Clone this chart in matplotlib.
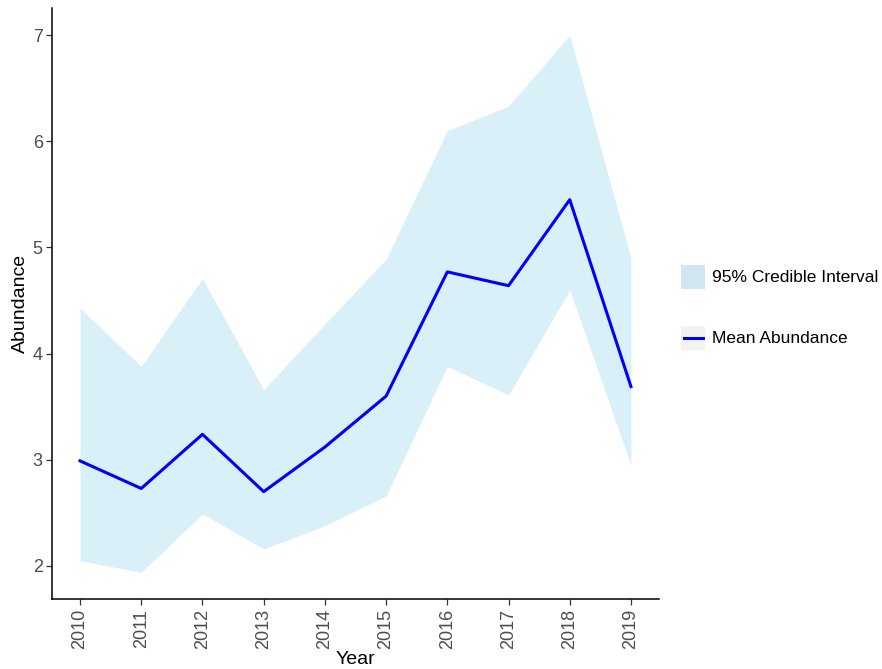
import matplotlib
matplotlib.use("Agg")
import matplotlib.pyplot as plt
from matplotlib.patches import Rectangle
from matplotlib.lines import Line2D

plt.rcParams['font.family'] = ['Liberation Sans', 'DejaVu Sans']

years = [2010, 2011, 2012, 2013, 2014, 2015, 2016, 2017, 2018, 2019]
mean_abundance = [2.99, 2.73, 3.24, 2.70, 3.12, 3.60, 4.77, 4.64, 5.45, 3.69]
lower_ci = [2.05, 1.94, 2.49, 2.16, 2.38, 2.66, 3.88, 3.61, 4.60, 2.95]
upper_ci = [4.43, 3.88, 4.71, 3.66, 4.28, 4.89, 6.10, 6.33, 7.00, 4.90]

band_color = '#87CEEB'
band_alpha = 0.3
line_color = '#0000FF'

fig = plt.figure(figsize=(8.82, 6.69), dpi=100)
ax = fig.add_axes([0.0595, 0.1043, 0.6871, 0.8834])

ax.fill_between(years, lower_ci, upper_ci, color=band_color, alpha=band_alpha,
                linewidth=0)
ax.plot(years, mean_abundance, color=line_color, linewidth=2.2)

ax.set_xlim(2009.55, 2019.45)
ax.set_ylim(1.687, 7.253)
ax.set_xticks(years)
ax.set_xticklabels([str(y) for y in years], rotation=90)
ax.set_yticks([2, 3, 4, 5, 6, 7])

for side in ('top', 'right'):
    ax.spines[side].set_visible(False)
for side in ('left', 'bottom'):
    ax.spines[side].set_linewidth(1.1)
    ax.spines[side].set_color('black')

ax.tick_params(axis='both', length=4, width=0.9, color='#333333',
               labelcolor='#4D4D4D', labelsize=13, pad=3)

ax.set_xlabel('Year', fontsize=14, color='black', labelpad=1)
ax.set_ylabel('Abundance', fontsize=14, color='black', labelpad=3)

# legend drawn in its own axes (pixel-like coordinates)
lax = fig.add_axes([0, 0, 1, 1], facecolor='none')
lax.set_xlim(0, 882)
lax.set_ylim(669, 0)
lax.axis('off')

key_bg = '#F2F2F2'
lax.add_patch(Rectangle((681, 265), 24, 24, facecolor=key_bg, edgecolor='none'))
lax.add_patch(Rectangle((681, 265), 24, 24, facecolor=band_color,
                        alpha=band_alpha, edgecolor='none'))
lax.text(712, 277.5, '95% Credible Interval', fontsize=12.5, va='center',
         ha='left', color='black')

lax.add_patch(Rectangle((681, 326), 24, 24, facecolor=key_bg, edgecolor='none'))
lax.add_line(Line2D([683.5, 702.5], [338, 338], color=line_color, linewidth=2.2))
lax.text(712, 338.5, 'Mean Abundance', fontsize=12.5, va='center', ha='left',
         color='black')

fig.savefig('out.png', dpi=100)
